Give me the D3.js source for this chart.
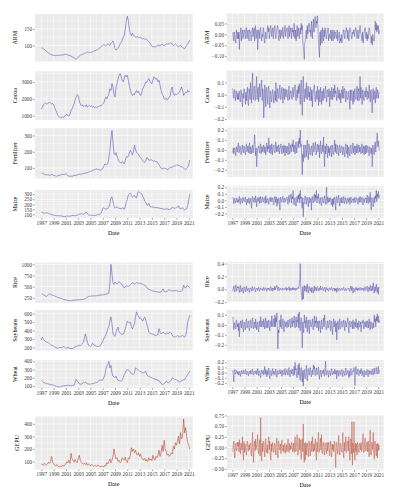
<!DOCTYPE html>
<html><head><meta charset="utf-8">
<script src="https://cdn.jsdelivr.net/npm/d3@7"></script>
<style>body{margin:0;background:#fff}</style>
</head><body><svg id="c" width="398" height="500"></svg>
<script>
// ---------- DATA ----------
const levelDates = d3.timeMonth.every(2).range(new Date(1997,0,1), new Date(2021,4,1)); // bi-monthly levels
const returnDates = d3.timeMonth.range(new Date(1997,1,1), new Date(2021,3,1));          // monthly returns
const yearTicks = [1997,1999,2001,2003,2005,2007,2009,2011,2013,2015,2017,2019,2021];

const armLevel = [93,92,90,88,85,82, 80,77,75,73,72,71, 70,70,69,70,71,70, 70,71,72,71,72,73, 74,73,71,70,69,68, 66,64,62,60,58,60, 65,68,70,72,73,74, 76,77,78,80,78,79, 80,79,81,82,84,85, 86,88,90,92,95,98, 100,103,101,99,102,105, 103,100,106,110,114,104, 90,86,88,92,98,105, 110,115,125,130,150,175, 189,175,150,135,130,138, 132,128,126,125,127,124, 124,125,122,120,121,119, 120,118,115,112,108,103, 98,96,97,95,97,99, 100,102,98,103,104,101, 100,102,105,103,106,104, 107,108,104,100,102,105, 102,98,95,99,100,96, 94,92,90,95,100,105, 110,116];
const cocoaLevel = [1400,1500,1650,1700,1750,1700, 1720,1760,1780,1750,1700,1720, 1650,1500,1350,1200,1050,950, 920,900,880,940,900,1000, 1050,1100,1000,980,1100,1300, 1400,1550,1700,1950,2100,2250, 2200,1900,1700,1600,1650,1550, 1600,1550,1650,1500,1580,1620, 1550,1600,1500,1550,1480,1520, 1500,1520,1550,1600,1580,1650, 1700,1750,1950,2100,2000,2150, 2300,2600,2500,2900,2700,2300, 2100,2700,2900,3200,3400,3500, 3300,3100,3000,3200,3400,3300, 3400,3100,2800,2500,2300,2200, 2300,2250,2400,2500,2350,2450, 2300,2200,2350,2600,2700,2850, 3000,2950,3100,3200,3050,2950, 2900,3100,3300,3250,3150,3200, 3000,3100,2800,2500,2300,2200, 2000,1950,2050,1950,2000,2100, 2200,2600,2700,2300,2200,2300, 2250,2300,2350,2400,2550,2700, 2500,2200,2300,2400,2350,2500, 2400,2450];
const fertilizerLevel = [70,68,65,62,60,58, 60,58,55,57,60,58, 55,53,52,50,52,55, 56,58,60,62,60,63, 66,60,52,50,51,50, 50,52,55,54,56,58, 60,62,64,62,65,66, 68,70,72,70,75,78, 80,82,85,88,90,92, 95,93,90,88,86,90, 100,112,125,122,120,130, 165,210,280,330,260,190, 180,195,170,155,140,135, 130,140,135,125,145,170, 165,175,195,210,195,180, 200,240,215,195,190,185, 170,165,155,145,140,135, 145,165,160,150,148,150, 150,145,140,145,138,140, 130,120,110,100,95,98, 100,98,95,90,92,100, 105,100,108,110,115,112, 118,120,116,114,110,108, 105,100,95,92,98,105, 120,150];
const maizeLevel = [120,118,112,110,115,112, 115,110,105,100,98,95, 92,90,88,86,88,85, 84,86,82,80,78,76, 80,85,82,80,82,85, 88,90,87,85,88,92, 98,100,104,106,102,100, 105,118,122,105,95,92, 90,91,92,89,90,91, 93,95,98,100,108,125, 160,165,155,150,155,160, 170,210,260,275,230,185, 160,170,175,165,160,158, 155,165,160,150,175,220, 250,295,305,310,290,270, 280,290,270,265,310,330, 320,310,305,285,260,230, 220,195,190,210,185,170, 175,172,170,168,165,167, 165,163,160,158,157,155, 150,152,155,153,150,148, 150,162,170,165,160,162, 165,170,185,160,155,160, 165,150,145,150,155,185, 240,300];
const riceLevel = [340,330,320,300,290,280, 300,320,340,330,315,305, 300,290,280,270,255,250, 245,240,230,220,210,205, 200,195,190,185,180,182, 188,190,195,198,200,202, 200,205,210,208,212,215, 220,230,250,265,280,285, 285,290,288,292,295,290, 295,300,305,310,308,312, 315,320,325,330,335,340, 360,600,1000,780,580,550, 600,570,560,590,610,580, 560,550,500,470,500,520, 510,500,520,540,560,590, 580,560,570,590,580,575, 580,570,560,550,540,530, 520,480,450,440,430,420, 410,400,395,390,385,380, 380,375,370,380,420,450, 390,380,385,400,420,430, 420,410,400,405,410,412, 410,400,395,390,395,400, 420,530,480,470,510,520, 490,470];
const soybeansLevel = [285,320,300,280,270,265, 260,255,245,235,225,220, 215,205,200,195,190,195, 200,198,195,205,210,200, 190,195,198,192,188,186, 185,190,200,205,210,215, 220,225,222,228,240,260, 300,360,320,260,230,215, 210,220,250,240,222,218, 215,212,210,215,230,250, 270,300,320,350,380,420, 450,520,560,480,360,340, 330,380,420,440,380,370, 360,350,360,380,420,460, 510,500,490,500,440,420, 450,480,560,620,580,570, 540,550,530,510,540,560, 520,480,430,380,370,360, 360,355,350,345,340,345, 360,420,380,360,370,380, 370,360,365,370,360,375, 380,370,340,330,320,325, 330,340,335,320,330,335, 340,330,320,340,400,500, 540,580];
const wheatLevel = [170,160,145,140,135,130, 130,125,120,118,115,112, 110,105,100,98,95,92, 90,92,100,102,104,105, 105,108,110,108,106,104, 105,108,110,150,180,160, 150,130,125,120,135,145, 140,150,135,128,125,124, 125,128,130,132,135,140, 145,150,160,175,172,170, 175,200,230,300,340,360, 400,320,350,260,220,210, 200,220,190,170,165,160, 160,170,200,240,260,290, 300,295,285,270,250,245, 240,260,320,310,300,290, 280,275,270,262,260,270, 280,240,225,215,210,205, 200,195,190,185,180,175, 170,165,150,130,122,120, 130,140,160,150,140,150, 160,175,200,195,185,180, 175,165,160,150,155,165, 170,175,180,200,220,240, 260,280];
const gepuLevel = [80,75,70,85,78,72, 80,95,85,100,140,95, 80,70,65,75,62,60, 58,65,60,70,62,75, 80,100,90,110,85,165, 120,110,95,115,100,90, 120,150,110,95,85,80, 85,75,90,70,80,72, 65,75,70,62,68,65, 60,72,65,60,58,62, 60,55,70,65,90,80, 100,120,90,110,140,200, 150,120,130,100,110,90, 100,130,120,110,135,100, 90,130,120,150,210,180, 200,170,190,160,150,170, 140,160,130,120,110,125, 105,115,100,130,110,120, 105,150,120,110,140,130, 150,190,140,170,230,180, 270,200,180,150,160,140, 150,170,160,220,200,250, 230,260,300,240,330,280, 300,440,330,370,300,250, 230,200];

const armReturn = [0.01,-0.02,-0.03,0.01,-0.01,-0.03,-0.04,0.02,0.00,-0.02,0.01,
-0.02,0.01,-0.07,-0.01,0.01,0.03,-0.03,0.00,0.02,-0.02,-0.01,0.02,
0.02,-0.01,-0.02,0.03,0.03,-0.02,0.00,0.02,-0.01,-0.03,0.02,0.01,
0.01,-0.03,-0.02,0.02,0.03,-0.01,0.01,0.03,-0.03,0.01,0.04,-0.02,
-0.01,0.02,-0.07,-0.02,0.02,0.01,-0.02,0.03,0.03,-0.01,-0.03,0.00,
-0.01,0.03,0.02,-0.03,-0.04,0.00,0.01,-0.02,-0.02,0.02,0.04,0.01,
0.03,-0.02,0.00,0.03,0.04,0.01,-0.01,0.02,0.03,-0.02,0.01,0.03,
0.04,0.00,-0.02,0.01,0.02,0.04,0.03,-0.01,-0.03,0.02,0.01,-0.02,
0.02,0.01,-0.01,0.03,0.03,-0.02,0.00,0.02,0.04,-0.01,0.01,0.02,
0.03,0.00,-0.02,0.02,0.04,-0.01,0.02,0.03,0.00,-0.02,0.03,0.01,
0.02,-0.01,0.05,0.01,-0.02,0.02,-0.03,0.01,0.04,-0.01,0.03,0.02,
-0.02,0.01,0.03,0.00,0.05,0.02,0.04,-0.03,-0.06,-0.08,-0.115,-0.04,
-0.03,0.01,0.02,-0.02,0.04,0.00,0.03,0.05,0.05,0.01,0.02,-0.01,
0.06,0.02,-0.02,0.04,0.07,0.01,0.04,0.08,0.08,0.03,0.06,0.05,
0.085,0.02,-0.04,-0.07,-0.105,0.01,-0.05,0.02,-0.02,-0.04,0.03,-0.01,
-0.03,0.02,-0.01,0.03,0.02,-0.02,-0.02,0.01,0.01,0.03,-0.03,0.00,
0.00,-0.02,0.02,0.01,-0.03,0.02,-0.01,-0.03,0.01,0.02,-0.02,0.01,
0.01,-0.01,-0.02,0.02,-0.03,-0.01,-0.01,0.01,-0.04,-0.02,-0.03,0.00,
-0.04,-0.02,-0.01,0.02,0.02,-0.01,-0.02,0.01,0.02,0.03,0.01,-0.02,
0.02,0.00,-0.03,0.01,0.03,0.02,0.01,-0.02,-0.02,0.01,0.00,0.02,
0.02,-0.01,0.01,0.03,0.03,0.00,-0.02,0.01,0.02,-0.02,-0.01,0.02,
0.04,0.01,0.00,-0.02,-0.03,0.01,-0.04,-0.01,0.01,0.02,0.03,-0.01,
-0.02,0.01,-0.03,0.00,-0.02,0.01,0.03,0.02,0.00,-0.01,-0.04,-0.01,
-0.05,0.00,-0.02,-0.03,-0.03,0.01,0.06,0.02,0.05,0.01,0.04,0.02,
0.04,0.00,0.02];
const cocoaReturn = [0.05,-0.02,-0.03,0.03,0.04,-0.05,-0.02,0.03,0.02,-0.04,0.01,
-0.04,0.02,0.03,-0.05,-0.06,0.04,0.02,-0.03,-0.10,0.01,-0.03,0.05,
0.04,-0.03,-0.08,0.02,-0.05,0.03,0.06,-0.07,-0.09,0.05,0.02,-0.04,
0.10,0.02,-0.07,0.05,0.18,-0.03,-0.04,0.06,0.07,-0.05,-0.02,0.08,
0.15,-0.04,0.04,0.06,-0.06,0.03,0.09,-0.02,0.03,0.07,0.12,-0.05,
0.05,0.02,-0.19,-0.06,0.08,0.03,-0.10,0.04,0.06,-0.03,-0.08,0.05,
0.07,-0.04,-0.11,0.03,0.02,-0.06,-0.05,0.04,0.04,-0.03,-0.07,0.02,
0.03,-0.05,0.10,0.02,-0.06,0.04,0.05,-0.02,-0.03,0.06,0.08,-0.04,
-0.04,0.03,0.06,-0.02,-0.07,0.05,0.03,-0.04,0.05,0.01,-0.02,0.04,
0.04,-0.03,-0.05,0.02,0.07,-0.04,-0.01,0.03,0.03,-0.02,-0.04,0.05,
0.06,-0.02,0.02,0.05,0.08,-0.03,-0.05,0.02,0.04,-0.03,0.07,0.01,
0.09,0.03,-0.08,0.06,0.12,-0.04,-0.17,0.05,0.15,-0.02,-0.06,0.04,
0.05,-0.03,0.10,0.02,-0.04,0.06,0.07,-0.02,0.02,-0.05,0.06,0.03,
-0.05,0.04,-0.10,-0.02,0.04,0.05,0.08,-0.03,-0.06,0.02,0.03,-0.04,
0.07,0.02,-0.09,0.04,-0.04,-0.06,0.06,0.01,-0.08,0.03,0.02,-0.05,
0.05,-0.02,-0.03,0.04,0.07,-0.01,-0.06,0.03,0.04,-0.02,0.01,0.05,
-0.10,0.02,0.03,-0.04,0.06,0.02,-0.04,0.03,0.05,-0.02,0.08,0.01,
0.03,-0.02,-0.05,0.04,0.06,-0.03,0.02,0.04,-0.04,0.01,-0.07,0.03,
0.04,-0.03,0.07,0.02,-0.03,0.05,0.05,-0.02,-0.06,0.03,0.02,-0.04,
-0.04,0.02,0.03,-0.05,-0.12,0.04,-0.05,0.02,0.04,-0.03,-0.08,0.03,
-0.06,0.04,0.05,-0.03,-0.04,0.02,0.07,-0.05,0.03,0.05,-0.05,0.02,
0.15,-0.03,0.06,0.02,-0.08,0.03,0.04,-0.04,-0.05,0.02,0.03,-0.02,
0.06,0.01,-0.04,0.03,0.02,-0.03,0.08,0.02,-0.06,0.03,0.04,-0.05,
-0.15,0.03,0.05,-0.04,0.03,0.02,-0.07,0.04,0.06,-0.03,0.02,0.04,
-0.03,0.01,0.02];
const fertilizerReturn = [-0.03,0.02,-0.04,0.01,0.02,-0.03,-0.06,0.03,0.01,-0.02,0.04,
0.07,-0.03,-0.02,0.04,0.03,-0.05,-0.04,0.02,0.05,-0.01,-0.03,0.04,
0.02,-0.03,-0.05,0.03,0.06,-0.02,0.01,0.04,-0.03,0.02,0.07,-0.04,
0.03,0.01,-0.04,0.02,0.05,-0.03,0.02,0.06,0.15,0.04,-0.06,0.02,
-0.17,-0.05,0.01,0.03,0.04,-0.02,-0.03,0.05,0.06,-0.04,0.02,0.03,
-0.02,0.04,0.05,-0.03,0.03,0.02,-0.05,0.04,0.07,-0.02,0.04,0.01,
0.12,-0.03,0.03,0.05,-0.04,0.02,0.06,-0.05,0.02,0.03,0.05,-0.02,
-0.03,0.04,0.08,-0.02,0.04,0.03,-0.02,0.05,0.05,-0.04,0.01,0.03,
0.06,-0.02,-0.04,0.04,0.03,-0.03,0.05,0.02,-0.06,0.04,0.02,-0.03,
0.04,0.02,-0.05,0.03,0.07,-0.04,-0.03,0.05,0.02,-0.02,0.06,0.03,
0.10,-0.02,0.05,0.03,-0.04,0.06,0.08,-0.03,0.03,0.05,0.09,0.02,
0.12,0.06,0.20,0.03,0.06,-0.10,-0.25,-0.04,-0.12,0.05,-0.04,-0.08,
0.05,0.02,-0.07,0.04,0.10,-0.03,-0.10,0.06,0.03,-0.04,-0.05,0.02,
0.04,-0.03,-0.06,0.05,0.07,-0.02,0.02,0.04,0.08,-0.05,-0.03,0.04,
0.06,-0.02,0.03,0.05,-0.08,0.02,0.09,-0.03,-0.04,0.03,0.05,-0.02,
0.13,-0.05,-0.17,0.04,-0.04,0.02,0.06,-0.03,-0.08,0.04,-0.03,0.02,
-0.06,0.03,0.04,-0.02,-0.07,0.05,0.02,-0.04,-0.05,0.03,0.10,-0.02,
0.06,-0.03,-0.04,0.05,0.03,-0.02,-0.06,0.04,0.05,-0.03,-0.02,0.03,
0.04,-0.02,-0.05,0.03,0.02,-0.04,-0.07,0.03,0.06,-0.02,-0.04,0.05,
-0.08,0.02,0.03,-0.04,-0.06,0.04,0.05,-0.03,-0.04,0.02,0.07,-0.03,
0.02,0.04,-0.05,0.02,0.04,-0.03,0.06,0.01,-0.03,0.04,0.05,-0.02,
0.03,-0.02,-0.04,0.05,0.06,-0.03,0.02,0.04,-0.05,0.03,0.04,-0.04,
0.05,-0.03,-0.02,0.04,0.03,-0.02,-0.06,0.03,0.02,-0.03,-0.04,0.02,
-0.17,0.05,0.04,-0.03,-0.05,0.06,0.08,-0.02,0.06,0.10,0.17,0.03,
0.09,0.04,-0.01];
const maizeReturn = [0.05,0.02,-0.05,0.03,0.03,-0.04,-0.02,0.02,0.04,-0.03,0.01,
-0.03,0.02,0.06,-0.04,-0.06,0.03,0.02,-0.02,-0.04,0.05,0.03,-0.02,
-0.02,0.04,0.05,-0.03,-0.07,0.02,0.01,-0.04,0.04,0.03,-0.05,0.02,
0.03,-0.04,-0.12,0.05,0.06,-0.02,-0.03,0.04,0.02,-0.03,0.07,0.01,
-0.10,0.03,0.04,-0.02,0.02,0.05,-0.05,0.03,0.06,-0.04,-0.02,0.03,
0.05,-0.02,-0.03,0.04,0.04,-0.05,0.07,0.02,-0.04,0.03,0.02,-0.03,
-0.06,0.04,0.03,-0.02,0.05,0.02,-0.02,0.03,0.04,-0.05,-0.07,0.03,
0.06,-0.03,0.02,0.05,-0.09,0.02,-0.05,0.04,0.03,-0.06,-0.15,0.05,
0.04,-0.03,-0.02,0.05,0.06,-0.02,-0.04,0.03,0.03,-0.02,0.01,0.04,
0.05,-0.02,-0.06,0.04,0.08,-0.03,0.03,0.06,0.10,-0.04,0.06,0.02,
0.15,-0.05,-0.07,0.04,0.04,-0.06,-0.09,0.05,0.06,-0.03,0.08,0.02,
0.10,-0.04,0.15,0.03,0.05,-0.08,-0.12,0.04,-0.25,-0.03,-0.05,0.06,
0.07,-0.03,-0.06,0.05,0.04,-0.02,-0.10,0.03,0.05,-0.04,0.02,0.03,
-0.15,0.04,0.06,-0.03,-0.04,0.05,0.10,-0.02,0.08,0.03,0.15,-0.04,
0.06,0.03,0.10,-0.03,-0.05,0.04,0.04,-0.06,-0.08,0.05,0.03,-0.02,
-0.04,0.03,0.07,-0.02,-0.06,0.04,0.20,-0.05,0.05,0.02,-0.03,0.04,
-0.02,0.03,0.04,-0.05,-0.07,0.02,-0.10,0.03,-0.06,0.04,0.05,-0.03,
-0.15,0.05,0.06,-0.03,-0.04,0.04,0.08,-0.02,-0.09,0.03,0.03,-0.04,
0.05,-0.02,-0.04,0.03,0.06,-0.05,-0.03,0.04,0.02,-0.03,-0.05,0.03,
0.04,-0.03,0.02,0.04,-0.06,0.02,0.05,-0.04,-0.03,0.02,0.01,0.03,
-0.04,0.02,0.05,-0.03,-0.02,0.04,0.03,-0.02,-0.06,0.03,0.04,-0.03,
0.06,-0.02,-0.03,0.04,0.05,-0.04,-0.07,0.03,0.02,-0.03,0.04,0.02,
0.03,-0.04,0.08,0.02,-0.05,0.04,0.06,-0.03,0.12,-0.05,-0.15,0.04,
0.04,-0.03,-0.10,0.02,0.05,-0.04,0.07,0.03,0.15,-0.02,0.10,0.05,
0.14,0.03,0.08];
const riceReturn = [-0.03,0.02,0.05,-0.02,-0.04,0.03,0.07,-0.03,-0.02,0.04,0.02,
0.04,-0.02,-0.05,0.03,0.06,-0.04,-0.03,0.02,0.02,-0.03,-0.06,0.04,
0.03,-0.02,-0.04,0.03,0.05,-0.03,-0.02,0.02,0.01,-0.03,-0.05,0.02,
0.02,-0.01,-0.03,0.03,0.04,-0.02,-0.01,0.02,0.03,-0.02,-0.04,0.01,
0.01,0.02,-0.02,0.01,0.03,-0.02,-0.03,0.02,0.02,-0.01,0.00,0.01,
-0.02,0.01,0.03,-0.02,-0.01,0.02,0.02,-0.01,-0.03,0.02,0.01,-0.01,
0.02,-0.01,-0.02,0.03,0.04,-0.02,0.00,0.02,-0.03,0.01,0.02,-0.01,
0.05,-0.01,0.02,0.04,0.06,0.01,-0.02,0.03,0.03,-0.02,-0.01,0.02,
0.01,-0.01,-0.02,0.02,0.02,-0.01,0.00,0.01,-0.01,0.02,0.03,-0.02,
0.02,0.00,-0.01,0.02,0.04,-0.02,0.01,0.02,-0.02,0.01,0.02,-0.01,
0.03,-0.01,0.01,0.02,-0.02,0.01,0.02,-0.01,0.01,0.02,0.03,0.01,
0.08,0.15,0.40,0.05,-0.05,-0.10,-0.17,0.04,-0.15,-0.02,0.06,-0.03,
0.03,0.05,-0.04,0.02,0.08,-0.03,-0.06,0.04,0.04,-0.02,-0.03,0.02,
-0.05,0.03,0.02,-0.04,-0.06,0.02,0.05,-0.03,0.03,0.01,-0.02,0.03,
0.04,-0.02,-0.03,0.02,0.02,-0.02,0.05,0.01,-0.01,0.02,0.03,-0.02,
-0.02,0.02,0.03,-0.02,-0.04,0.03,0.02,-0.01,0.01,-0.02,-0.03,0.02,
0.02,-0.01,-0.01,0.02,0.03,-0.02,-0.02,0.01,0.00,0.02,-0.03,0.01,
-0.02,0.01,-0.05,0.02,0.02,-0.02,-0.03,0.02,0.01,-0.01,-0.02,0.01,
0.02,-0.01,-0.01,0.02,0.03,-0.02,-0.02,0.01,0.01,-0.02,-0.01,0.01,
0.00,0.01,0.02,-0.02,-0.03,0.02,0.05,-0.02,0.04,0.03,-0.06,0.01,
0.02,-0.02,-0.04,0.02,0.03,-0.01,0.02,-0.02,0.01,0.02,-0.02,0.01,
0.03,-0.01,-0.02,0.02,0.01,-0.01,0.02,-0.02,-0.03,0.02,0.04,-0.02,
-0.01,0.02,0.05,-0.03,-0.04,0.03,0.02,-0.02,0.06,0.02,-0.03,0.02,
0.05,-0.02,0.10,0.03,-0.06,0.02,0.04,-0.03,0.08,0.02,-0.05,0.03,
-0.08,0.03,0.02];
const soybeansReturn = [0.08,0.03,-0.05,0.02,0.02,-0.03,-0.04,0.05,0.03,-0.02,0.01,
-0.06,0.02,-0.12,-0.03,0.04,0.02,-0.03,0.04,0.05,-0.04,-0.07,0.03,
0.02,-0.03,-0.05,0.04,0.06,-0.03,-0.02,0.03,0.04,-0.04,-0.06,0.02,
0.05,-0.02,-0.03,0.04,0.07,-0.02,-0.04,0.03,0.02,-0.03,0.06,0.01,
-0.05,0.02,0.03,-0.04,-0.07,0.03,0.04,-0.02,0.08,0.02,-0.02,0.04,
0.03,-0.02,0.06,0.02,-0.04,0.03,0.07,-0.03,0.02,0.04,-0.03,0.02,
0.05,-0.03,-0.06,0.03,0.04,-0.02,0.09,0.02,-0.02,0.04,0.06,-0.02,
0.10,-0.02,0.07,0.03,0.12,-0.06,-0.24,-0.05,-0.08,0.04,0.05,-0.02,
0.10,-0.03,-0.04,0.03,0.06,-0.02,-0.07,0.04,0.03,-0.02,0.02,0.03,
-0.03,0.02,0.05,-0.02,0.01,0.03,0.06,-0.03,-0.02,0.04,0.07,-0.02,
0.04,0.02,0.09,-0.02,-0.03,0.05,0.08,-0.02,0.05,0.03,0.11,-0.03,
0.13,-0.02,-0.06,0.04,0.07,-0.05,-0.23,0.03,-0.05,-0.08,0.10,0.02,
0.04,-0.03,0.08,0.02,-0.07,0.04,0.05,-0.04,-0.09,0.05,0.03,-0.02,
-0.02,0.03,0.06,-0.03,-0.05,0.04,0.09,-0.02,0.04,0.02,0.08,-0.03,
0.02,0.04,-0.06,0.02,0.04,-0.03,-0.08,0.03,0.05,-0.04,-0.04,0.02,
0.07,-0.02,0.10,0.03,0.03,-0.04,-0.05,0.02,0.04,-0.03,-0.02,0.03,
0.05,-0.03,-0.06,0.04,0.03,-0.05,-0.10,0.03,0.06,-0.02,0.02,0.04,
-0.07,0.02,-0.15,-0.04,0.04,0.02,-0.05,0.03,0.06,-0.04,-0.03,0.02,
0.04,-0.02,-0.02,0.03,0.05,-0.03,-0.06,0.04,0.03,-0.02,0.01,0.03,
0.07,-0.03,-0.08,0.03,0.04,-0.02,-0.02,0.03,0.03,-0.04,0.05,0.02,
-0.04,0.03,0.02,-0.02,0.06,0.01,-0.03,0.02,-0.05,0.03,0.04,-0.02,
-0.02,0.03,-0.07,-0.02,0.03,0.02,0.05,-0.03,-0.04,0.03,0.02,-0.02,
0.04,-0.02,-0.03,0.04,0.02,-0.03,0.06,0.02,-0.05,0.03,0.03,-0.02,
-0.04,0.02,0.02,-0.03,0.10,0.03,0.06,-0.02,0.08,0.04,0.11,0.03,
0.09,0.02,0.05];
const wheatReturn = [0.05,-0.04,-0.18,0.03,0.06,-0.02,-0.03,0.04,0.04,-0.02,0.02,
-0.05,0.03,0.02,-0.04,-0.07,0.02,0.04,-0.03,-0.02,0.03,0.05,-0.02,
-0.03,0.04,0.06,-0.02,-0.04,0.03,0.02,-0.03,-0.06,0.02,0.03,-0.02,
0.04,-0.03,-0.02,0.05,0.07,-0.03,-0.05,0.02,0.03,-0.02,0.01,0.04,
-0.04,0.03,0.08,-0.02,-0.06,0.04,0.03,-0.05,-0.10,0.03,0.05,-0.02,
0.02,0.04,-0.05,0.03,0.12,-0.03,0.06,0.02,-0.08,0.04,-0.04,0.02,
0.09,-0.05,-0.12,0.03,0.04,-0.02,-0.06,0.05,0.08,-0.03,0.03,0.02,
-0.05,0.03,0.07,-0.04,-0.09,0.02,0.04,-0.03,-0.03,0.02,0.06,-0.02,
0.02,0.04,-0.07,0.02,0.05,-0.03,-0.04,0.03,0.08,-0.05,-0.02,0.03,
0.06,-0.03,-0.05,0.04,0.10,-0.04,-0.08,0.05,0.04,-0.02,0.07,0.03,
-0.06,0.05,0.12,-0.04,0.20,0.05,0.08,-0.06,-0.10,0.07,0.15,-0.05,
0.18,-0.08,-0.15,0.06,0.10,-0.07,-0.18,0.04,-0.26,0.03,0.06,-0.10,
-0.12,0.05,0.14,-0.06,-0.16,0.04,0.08,-0.03,-0.05,0.06,0.10,-0.04,
-0.08,0.03,0.05,-0.04,0.15,0.06,0.12,-0.05,-0.06,0.04,0.09,-0.03,
-0.04,0.06,0.11,-0.05,-0.13,0.03,0.05,-0.04,-0.08,0.04,0.03,-0.02,
0.06,-0.03,-0.07,0.05,0.22,-0.04,-0.05,0.03,0.04,-0.03,-0.09,0.04,
0.03,-0.02,-0.06,0.04,0.08,-0.03,-0.04,0.02,0.02,-0.03,0.07,0.02,
-0.03,0.04,-0.12,-0.03,0.05,0.02,-0.07,0.03,0.04,-0.02,-0.05,0.03,
0.06,-0.03,-0.08,0.04,0.03,-0.02,-0.06,0.05,0.09,-0.04,-0.04,0.02,
0.05,-0.02,-0.10,0.03,-0.07,0.04,0.08,-0.03,-0.05,0.02,0.04,0.02,
0.10,-0.06,-0.25,0.05,0.12,-0.03,-0.04,0.05,0.07,-0.04,-0.06,0.03,
0.05,-0.02,0.08,0.03,-0.06,0.02,0.04,-0.03,-0.09,0.04,0.03,-0.02,
-0.05,0.03,0.06,-0.02,-0.08,0.04,0.05,-0.03,0.02,0.03,-0.04,0.02,
0.07,-0.02,-0.05,0.04,0.09,-0.03,0.04,0.05,0.10,-0.02,-0.03,0.06,
0.12,-0.02,0.05];
const gepuReturn = [-0.10,0.08,0.15,-0.12,-0.25,0.05,0.10,-0.08,-0.05,0.12,0.03,
0.12,-0.10,0.18,0.02,-0.15,0.10,0.08,-0.06,0.25,-0.12,-0.30,0.14,
-0.12,0.08,0.05,-0.10,-0.18,0.12,0.15,-0.05,-0.08,0.06,-0.05,0.10,
0.10,-0.15,-0.20,0.08,0.35,-0.12,-0.35,0.10,0.15,-0.08,0.20,-0.05,
0.05,0.12,0.30,-0.10,-0.15,0.08,0.18,-0.20,0.70,-0.15,-0.32,0.10,
-0.10,0.15,0.12,-0.08,-0.22,0.10,0.20,-0.12,-0.08,0.06,-0.15,0.12,
0.25,-0.05,0.15,-0.18,-0.30,0.08,-0.10,0.12,0.05,-0.06,-0.12,0.10,
0.08,-0.10,-0.18,0.12,0.22,-0.08,-0.25,0.15,0.12,-0.05,-0.06,0.08,
-0.15,0.10,0.18,-0.06,-0.08,0.05,-0.12,0.08,0.10,-0.14,-0.05,0.06,
-0.10,0.05,0.20,-0.08,-0.12,0.10,-0.06,0.04,-0.04,0.12,0.08,-0.10,
-0.05,0.10,-0.12,0.06,0.25,-0.10,-0.08,0.12,0.30,-0.18,-0.15,0.08,
0.22,-0.06,0.18,-0.12,-0.28,0.15,0.20,-0.10,0.55,-0.20,-0.35,0.10,
-0.30,0.12,-0.18,0.08,0.10,-0.05,-0.22,0.15,0.12,-0.08,-0.20,0.10,
0.15,-0.10,0.25,0.05,-0.10,0.08,-0.08,0.12,0.20,-0.15,-0.30,0.12,
-0.10,0.15,0.35,-0.12,-0.08,0.10,0.22,-0.06,0.30,-0.10,-0.15,0.08,
0.12,-0.08,-0.18,0.10,0.10,-0.06,-0.15,0.12,-0.08,0.05,0.12,-0.10,
-0.20,0.10,0.15,-0.12,-0.22,0.08,-0.05,0.06,-0.10,0.15,0.12,-0.08,
-0.47,0.12,0.10,-0.05,-0.15,0.10,0.28,-0.12,-0.18,0.10,0.08,-0.06,
-0.12,0.10,0.35,-0.15,-0.25,0.12,-0.08,0.06,0.25,-0.12,-0.10,0.15,
0.15,-0.08,0.25,-0.10,-0.30,0.12,0.20,-0.15,0.60,-0.42,0.10,-0.12,
0.60,-0.20,-0.30,0.10,-0.10,0.08,-0.18,0.12,0.06,-0.08,-0.12,0.10,
0.08,-0.06,0.12,-0.10,-0.06,0.15,0.32,-0.12,-0.10,0.08,0.22,-0.08,
-0.08,0.12,0.12,-0.10,0.15,-0.06,-0.22,0.10,0.40,-0.15,-0.18,0.12,
0.08,-0.05,0.35,-0.12,-0.28,0.15,0.12,-0.10,-0.20,0.08,-0.25,0.10,
-0.08,0.06,-0.05];

// tick values
const armLevelTicks = [100,150];
const cocoaLevelTicks = [1000,2000,3000];
const fertilizerLevelTicks = [100,200,300];
const maizeLevelTicks = [100,150,200,250,300];
const riceLevelTicks = [250,500,750,1000];
const soybeansLevelTicks = [200,300,400,500,600];
const wheatLevelTicks = [100,200,300,400];
const gepuLevelTicks = [100,200,300,400];
const armReturnTicks = [-0.10,-0.05,0.00,0.05];
const cocoaReturnTicks = [-0.2,-0.1,0.0,0.1];
const fertilizerReturnTicks = [-0.2,-0.1,0.0,0.1,0.2];
const maizeReturnTicks = [-0.2,-0.1,0.0,0.1,0.2];
const riceReturnTicks = [-0.2,0.0,0.2,0.4];
const soybeansReturnTicks = [-0.2,-0.1,0.0,0.1];
const wheatReturnTicks = [-0.2,-0.1,0.0,0.1,0.2];
const gepuReturnTicks = [-0.50,-0.25,0.00,0.25,0.50,0.75];

// ---------- DRAW ----------
const svg = d3.select('#c');
const FONT = "'Liberation Serif','Times New Roman',serif";
const BLUE = '#6158B6', BLUE_R = '#463FA0', RED = '#B9442E', RED_R = '#B5402C';
const cols = {
  L: {x0:34.7, x1:192.7, dom:[new Date(1995,11,1), new Date(2021,7,25)], titleX:15.3},
  R: {x0:226.7, x1:383.7, dom:[new Date(1996,0,30), new Date(2021,10,20)], titleX:206.8}
};
const f0 = d3.format('d'), f1 = d3.format('.1f'), f2 = d3.format('.2f');
const panels = [
  {col:'L', name:'ARM', d:levelDates, v:armLevel, t:armLevelTicks, fmt:f0, y0:14, y1:61.5, c:BLUE},
  {col:'L', name:'Cocoa', d:levelDates, v:cocoaLevel, t:cocoaLevelTicks, fmt:f0, y0:71.3, y1:120, c:BLUE},
  {col:'L', name:'Fertilizer', d:levelDates, v:fertilizerLevel, t:fertilizerLevelTicks, fmt:f0, y0:128.3, y1:178.5, c:BLUE},
  {col:'L', name:'Maize', d:levelDates, v:maizeLevel, t:maizeLevelTicks, fmt:f0, y0:190, y1:218, c:BLUE, xaxis:true},
  {col:'L', name:'Rice', d:levelDates, v:riceLevel, t:riceLevelTicks, fmt:f0, y0:262.5, y1:302.7, c:BLUE},
  {col:'L', name:'Soybeans', d:levelDates, v:soybeansLevel, t:soybeansLevelTicks, fmt:f0, y0:310, y1:350.5, c:BLUE},
  {col:'L', name:'Wheat', d:levelDates, v:wheatLevel, t:wheatLevelTicks, fmt:f0, y0:360, y1:388.2, c:BLUE, xaxis:true},
  {col:'L', name:'GEPU', d:levelDates, v:gepuLevel, t:gepuLevelTicks, fmt:f0, y0:416.5, y1:469.5, c:RED, xaxis:true, tx:16.7},
  {col:'R', name:'ARM', d:returnDates, v:armReturn, t:armReturnTicks, fmt:f2, y0:13.5, y1:61.7, c:BLUE_R},
  {col:'R', name:'Cocoa', d:returnDates, v:cocoaReturn, t:cocoaReturnTicks, fmt:f1, y0:70.5, y1:120, c:BLUE_R},
  {col:'R', name:'Fertilizer', d:returnDates, v:fertilizerReturn, t:fertilizerReturnTicks, fmt:f1, y0:127.7, y1:177, c:BLUE_R},
  {col:'R', name:'Maize', d:returnDates, v:maizeReturn, t:maizeReturnTicks, fmt:f1, y0:185.7, y1:218.3, c:BLUE_R, xaxis:true},
  {col:'R', name:'Rice', d:returnDates, v:riceReturn, t:riceReturnTicks, fmt:f1, y0:261.7, y1:302, c:BLUE_R},
  {col:'R', name:'Soybeans', d:returnDates, v:soybeansReturn, t:soybeansReturnTicks, fmt:f1, y0:310, y1:350.7, c:BLUE_R},
  {col:'R', name:'Wheat', d:returnDates, v:wheatReturn, t:wheatReturnTicks, fmt:f1, y0:360, y1:387.3, c:BLUE_R, xaxis:true},
  {col:'R', name:'GEPU', d:returnDates, v:gepuReturn, t:gepuReturnTicks, fmt:f2, y0:415, y1:470, c:RED_R, xaxis:true, tx:208.3}
];

function styleAxis(g){
  g.attr('font-family', FONT).attr('font-size', 5.3);
  g.select('.domain').remove();
  g.selectAll('line').attr('stroke', '#333').attr('stroke-width', 0.45);
  g.selectAll('text').attr('fill', '#3A3A3A');
}

panels.forEach(p => {
  const c = cols[p.col];
  const x = d3.scaleTime().domain(c.dom).range([c.x0, c.x1]);
  const ext = d3.extent(p.v), pad = (ext[1]-ext[0])*0.05;
  const y = d3.scaleLinear().domain([ext[0]-pad, ext[1]+pad]).range([p.y1, p.y0]);
  const g = svg.append('g');
  g.append('rect').attr('x', c.x0).attr('y', p.y0).attr('width', c.x1-c.x0).attr('height', p.y1-p.y0).attr('fill', '#EBEBEB');
  // minor grid
  const minorYears = d3.range(1996, 2023, 2).map(yy => new Date(yy,0,1)).filter(d => d >= c.dom[0] && d <= c.dom[1]);
  const step = p.t[1]-p.t[0];
  const yd = y.domain();
  const minorY = d3.range(p.t.length+1).map(i => p.t[0]-step/2+i*step).filter(v => v >= yd[0] && v <= yd[1]);
  g.append('g').selectAll('line').data(minorYears).join('line').attr('x1', d=>x(d)).attr('x2', d=>x(d)).attr('y1', p.y0).attr('y2', p.y1).attr('stroke', '#fff').attr('stroke-width', 0.3);
  g.append('g').selectAll('line').data(minorY).join('line').attr('x1', c.x0).attr('x2', c.x1).attr('y1', d=>y(d)).attr('y2', d=>y(d)).attr('stroke', '#fff').attr('stroke-width', 0.3);
  // major grid
  const majorYears = yearTicks.map(yy => new Date(yy,0,1));
  g.append('g').selectAll('line').data(majorYears).join('line').attr('x1', d=>x(d)).attr('x2', d=>x(d)).attr('y1', p.y0).attr('y2', p.y1).attr('stroke', '#fff').attr('stroke-width', 0.6);
  g.append('g').selectAll('line').data(p.t).join('line').attr('x1', c.x0).attr('x2', c.x1).attr('y1', d=>y(d)).attr('y2', d=>y(d)).attr('stroke', '#fff').attr('stroke-width', 0.6);
  // line
  const n = Math.min(p.d.length, p.v.length);
  const pts = d3.range(n).map(i => [p.d[i], p.v[i]]);
  g.append('path').datum(pts).attr('fill', 'none').attr('stroke', p.c).attr('stroke-width', p.col === 'L' ? 0.6 : 0.45).attr('stroke-linejoin', 'round')
    .attr('d', d3.line().x(q => x(q[0])).y(q => y(q[1])));
  // y axis
  const ya = g.append('g').attr('transform', `translate(${c.x0},0)`)
    .call(d3.axisLeft(y).tickValues(p.t).tickFormat(p.fmt).tickSize(1.6).tickPadding(1));
  styleAxis(ya);
  // y title
  const tx = p.tx || c.titleX, ty = (p.y0+p.y1)/2;
  g.append('text').attr('transform', `translate(${tx},${ty}) rotate(-90)`).attr('text-anchor', 'middle').attr('dominant-baseline', 'central')
    .attr('font-family', FONT).attr('font-size', 6).attr('fill', '#000').text(p.name);
  if (p.xaxis) {
    const xa = g.append('g').attr('transform', `translate(0,${p.y1})`)
      .call(d3.axisBottom(x).tickValues(majorYears).tickFormat(d3.timeFormat('%Y')).tickSize(1.6).tickPadding(1.2));
    styleAxis(xa);
    g.append('text').attr('x', (c.x0+c.x1)/2).attr('y', p.y1+14.5).attr('text-anchor', 'middle').attr('dominant-baseline', 'central')
      .attr('font-family', FONT).attr('font-size', 6).attr('fill', '#000').text('Date');
  }
});
</script></body></html>
